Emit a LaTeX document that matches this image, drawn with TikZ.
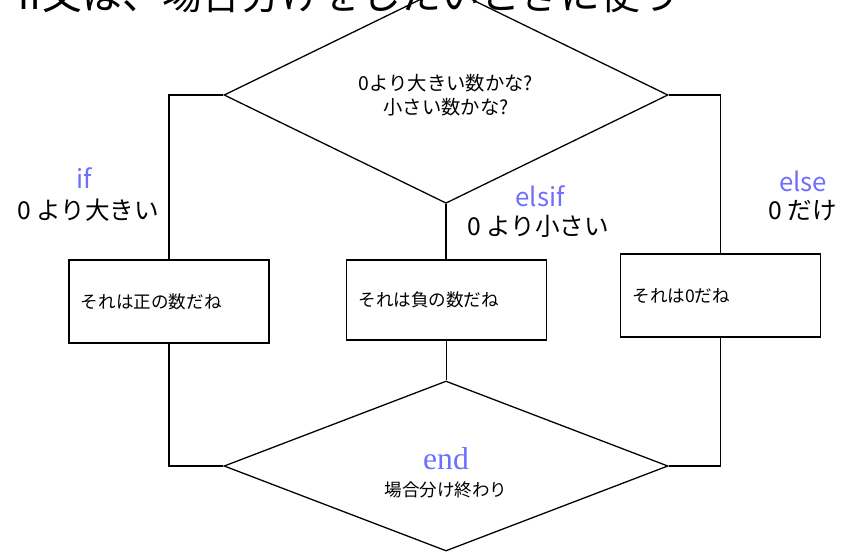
\documentclass[tikz,border=0pt]{standalone}
\usepackage{fontspec}
\setmainfont{Noto Sans CJK JP}
\newfontfamily\endserif{Liberation Serif}
\usetikzlibrary{shapes.geometric}
\definecolor{kwblue}{RGB}{110,110,255}

\begin{document}
\begin{tikzpicture}[x=0.03cm,y=-0.03cm,line width=1.1pt,
    cond/.style={diamond,draw,inner sep=0pt,minimum width=13.32cm,
      minimum height=5.25cm,align=center},
    stmt/.style={draw,line width=1.3pt,minimum height=2.49cm,text width=5.28cm,
      inner sep=0.36cm,align=left,font=\fontsize{15}{18}\selectfont},
    kw/.style={text=kwblue,font=\fontsize{22}{26}\selectfont},
    cases/.style={font=\fontsize{21}{25}\selectfont}]
  \clip (0,0) rectangle (845,551);
  \node[anchor=base west,inner sep=0pt,font=\fontsize{34}{40}\selectfont] (title)
    at (18,9) {if文は、場合分けをしたいときに使う};

  \node[cond,font=\fontsize{16.5}{21}\selectfont] (ask) at (446,95)
    {0より大きい数かな?\\小さい数かな?};
  \node[stmt] (plus) at (169,301.5) {それは正の数だね};
  \node[stmt,minimum height=2.4cm] (minus) at (446.5,300) {それは負の数だね};
  \node[stmt] (zero) at (720.5,295.5) {それは0だね};
  \node[cond,minimum height=5.1cm] (fin) at (446,466) {};
  \node[text=kwblue,font=\endserif\fontsize{27}{30}\selectfont] (endkw) at (446,459) {end};
  \node[font=\fontsize{15}{18}\selectfont] (endtxt) at (446,490) {場合分け終わり};

  \node[kw] (ifkw) at (84,178) {if};
  \node[cases] (iftxt) at (88,210) {0 より大きい};
  \node[kw] (elsifkw) at (540,196) {elsif};
  \node[cases] (elsiftxt) at (538,226) {0 より小さい};
  \node[kw] (elsekw) at (803,181) {else};
  \node[cases] (elsetxt) at (803,211) {0 だけ};

  \draw[line width=0.9pt] (ask.west) -| (plus.north);
  \draw[line width=0.9pt] (ask.south) -- (ask.south |- minus.north);
  \draw[line width=0.9pt] (ask.east) -| (zero.north);
  \draw[line width=0.9pt] (plus.south) |- (fin.west);
  \draw[line width=0.9pt] (minus.south) -- (minus.south |- fin.north);
  \draw[line width=0.9pt] (zero.south) |- (fin.east);
\end{tikzpicture}
\end{document}
